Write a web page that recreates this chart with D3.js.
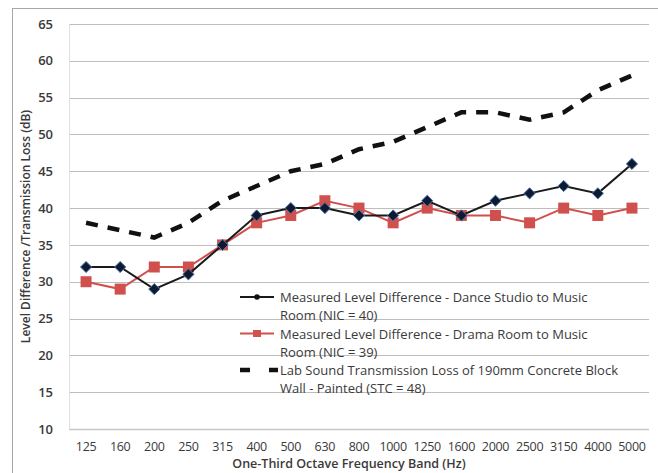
<!DOCTYPE html>
<html>
<head>
<meta charset="utf-8">
<script src="https://cdn.jsdelivr.net/npm/d3@7"></script>
<style>
  body { margin: 0; background: #fff; }
  text { font-family: "Open Sans", "DejaVu Sans", sans-serif; }
</style>
</head>
<body>
<svg id="chart"></svg>
<script>
var bands = ["125", "160", "200", "250", "315", "400", "500", "630", "800", "1000",
  "1250", "1600", "2000", "2500", "3150", "4000", "5000"];
var danceStudio = [32, 32, 29, 31, 35, 39, 40, 40, 39, 39, 41, 39, 41, 42, 43, 42, 46];
var dramaRoom = [30, 29, 32, 32, 35, 38, 39, 41, 40, 38, 40, 39, 39, 38, 40, 39, 40];
var labWall = [38, 37, 36, 38, 41, 43, 45, 46, 48, 49, 51, 53, 53, 52, 53, 56, 58];
var yTicks = [10, 15, 20, 25, 30, 35, 40, 45, 50, 55, 60, 65];

var legendLabels = [
  ["Measured Level Difference - Dance Studio to Music", "Room (NIC = 40)"],
  ["Measured Level Difference - Drama Room to Music", "Room (NIC = 39)"],
  ["Lab Sound Transmission Loss of 190mm Concrete Block", "Wall - Painted (STC = 48)"]
];

var W = 658, H = 473;
var margin = { top: 24, right: 9, bottom: 44, left: 69 },
  width = W - margin.left - margin.right,
  height = H - margin.top - margin.bottom;

var svg = d3.select("#chart").attr("width", W).attr("height", H);

// outer frame
svg.append("rect")
  .attr("x", 12.5).attr("y", 8.5)
  .attr("width", W + 10).attr("height", H + 10)
  .attr("fill", "none").attr("stroke", "#a6a6a6").attr("stroke-width", 1);

var g = svg.append("g")
  .attr("transform", "translate(" + margin.left + "," + margin.top + ")");

var x = d3.scaleBand().domain(bands).range([0, width]);
var y = d3.scaleLinear().domain([10, 65]).range([height, 0]);

// gridlines
g.selectAll(".grid")
  .data(yTicks.slice(1))
  .enter().append("line")
  .attr("x1", 0).attr("x2", width)
  .attr("y1", function (d) { return Math.round(y(d)) + 0.5; })
  .attr("y2", function (d) { return Math.round(y(d)) + 0.5; })
  .attr("stroke", "#bdbdbd").attr("stroke-width", 1.2);

// axis lines
g.append("line").attr("x1", 0).attr("x2", width)
  .attr("y1", height + 0.5).attr("y2", height + 0.5)
  .attr("stroke", "#c8c8c8").attr("stroke-width", 1.5);
g.append("line").attr("x1", 0.5).attr("x2", 0.5)
  .attr("y1", 0).attr("y2", height)
  .attr("stroke", "#e0e0e0").attr("stroke-width", 1);

// y axis
var yAxis = g.append("g")
  .call(d3.axisLeft(y).tickValues(yTicks).tickSize(0).tickPadding(16));
yAxis.select(".domain").remove();
yAxis.selectAll("text")
  .attr("font-size", 13).attr("font-weight", 600).attr("fill", "#3a3a3a");

// x axis
var xAxis = g.append("g")
  .attr("transform", "translate(0," + height + ")")
  .call(d3.axisBottom(x).tickSize(0).tickPadding(13));
xAxis.select(".domain").remove();
xAxis.selectAll("text")
  .attr("font-size", 12.5).attr("fill", "#3a3a3a").attr("letter-spacing", -0.3);

// axis titles
svg.append("text")
  .attr("x", margin.left + width / 2 - 10).attr("y", 468)
  .attr("text-anchor", "middle")
  .attr("font-size", 12.5).attr("font-weight", 600).attr("fill", "#3a3a3a")
  .text("One-Third Octave Frequency Band (Hz)");

svg.append("text")
  .attr("transform", "translate(30," + (margin.top + height / 2) + ") rotate(-90)")
  .attr("text-anchor", "middle")
  .attr("font-size", 12).attr("font-weight", 600).attr("fill", "#3a3a3a")
  .text("Level Difference /Transmission Loss (dB)");

var cx = function (d, i) { return x(bands[i]) + x.bandwidth() / 2; };

var line = d3.line()
  .x(function (d, i) { return cx(d, i); })
  .y(function (d) { return y(d); });

// lab wall dashed
g.append("path").datum(labWall)
  .attr("d", line)
  .attr("fill", "none").attr("stroke", "#111").attr("stroke-width", 4.5)
  .attr("stroke-dasharray", "12,10");

// drama room
g.append("path").datum(dramaRoom)
  .attr("d", line)
  .attr("fill", "none").attr("stroke", "#d0504d").attr("stroke-width", 2);
g.selectAll(".sq").data(dramaRoom).enter().append("rect")
  .attr("x", function (d, i) { return cx(d, i) - 5.5; })
  .attr("y", function (d) { return y(d) - 5.5; })
  .attr("width", 11).attr("height", 11)
  .attr("fill", "#d0504d");

// dance studio
g.append("path").datum(danceStudio)
  .attr("d", line)
  .attr("fill", "none").attr("stroke", "#1a1a1a").attr("stroke-width", 2);
var diamond = d3.symbol().type(d3.symbolDiamond2).size(80);
g.selectAll(".dm").data(danceStudio).enter().append("path")
  .attr("d", diamond)
  .attr("transform", function (d, i) { return "translate(" + cx(d, i) + "," + y(d) + ")"; })
  .attr("fill", "#0f1a30").attr("stroke", "#4a78b0").attr("stroke-width", 1);

// legend
var legend = svg.append("g").attr("transform", "translate(240,297)");
var rowGap = 36.5;
legendLabels.forEach(function (lab, i) {
  var row = legend.append("g").attr("transform", "translate(0," + (i * rowGap) + ")");
  if (i === 0) {
    row.append("line").attr("x1", 0).attr("x2", 34).attr("y1", 0).attr("y2", 0)
      .attr("stroke", "#1a1a1a").attr("stroke-width", 2);
    row.append("circle").attr("cx", 17).attr("cy", 0).attr("r", 2.8).attr("fill", "#111");
  } else if (i === 1) {
    row.append("line").attr("x1", 0).attr("x2", 34).attr("y1", 0).attr("y2", 0)
      .attr("stroke", "#d0504d").attr("stroke-width", 2);
    row.append("rect").attr("x", 13).attr("y", -3.5).attr("width", 8).attr("height", 7)
      .attr("fill", "#d0504d");
  } else {
    row.append("line").attr("x1", 0).attr("x2", 38).attr("y1", 0).attr("y2", 0)
      .attr("stroke", "#111").attr("stroke-width", 4.5)
      .attr("stroke-dasharray", "10,19");
  }
  row.append("text").attr("x", 40).attr("y", 5)
    .attr("font-size", 13).attr("fill", "#3a3a3a").text(lab[0]);
  row.append("text").attr("x", 40).attr("y", 23)
    .attr("font-size", 13).attr("fill", "#3a3a3a").text(lab[1]);
});
</script>
</body>
</html>
